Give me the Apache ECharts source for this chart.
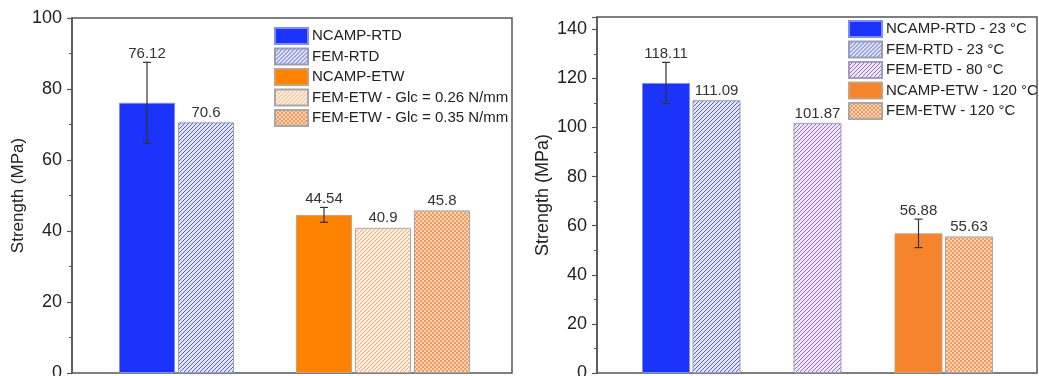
<!DOCTYPE html>
<html>
<head>
<meta charset="utf-8">
<script src="https://cdn.jsdelivr.net/npm/echarts@6/dist/echarts.min.js"></script>
<style>
  html, body { margin: 0; padding: 0; background: #fff; }
  #chart { width: 1039px; height: 376px; }
</style>
</head>
<body>
<div id="chart"></div>
<script>
// left panel: one slot per bar, '' is an empty slot between the groups
const leftSlots = ['NCAMP-RTD', 'FEM-RTD', '', 'NCAMP-ETW', 'FEM-ETW - Glc = 0.26 N/mm', 'FEM-ETW - Glc = 0.35 N/mm']
const leftValues = [76.12, 70.6, null, 44.54, 40.9, 45.8]
const leftErrors = [11.4, null, null, 2.1, null, null]
const leftMax = 100

// right panel
const rightSlots = ['NCAMP-RTD - 23 °C', 'FEM-RTD - 23 °C', '', 'FEM-ETD - 80 °C', '', 'NCAMP-ETW - 120 °C', 'FEM-ETW - 120 °C']
const rightValues = [118.11, 111.09, null, 101.87, null, 56.88, 55.63]
const rightErrors = [8.4, null, null, null, null, 5.8, null]
const rightMax = 145

const tickStep = 20
const FONT = '"Liberation Sans", Arial, sans-serif'

// hatch fills
function stripes(line, bg) {
  const s = 4
  const c = document.createElement('canvas')
  c.width = c.height = s
  const ctx = c.getContext('2d')
  ctx.fillStyle = bg
  ctx.fillRect(0, 0, s, s)
  ctx.strokeStyle = line
  ctx.lineWidth = 1
  ctx.beginPath()
  ctx.moveTo(0, s); ctx.lineTo(s, 0)
  ctx.moveTo(-1, 1); ctx.lineTo(1, -1)
  ctx.moveTo(s - 1, s + 1); ctx.lineTo(s + 1, s - 1)
  ctx.stroke()
  return { image: c, repeat: 'repeat' }
}
function checker(a, b) {
  const c = document.createElement('canvas')
  c.width = c.height = 4
  const ctx = c.getContext('2d')
  ctx.fillStyle = b
  ctx.fillRect(0, 0, 4, 4)
  ctx.fillStyle = a
  ctx.fillRect(0, 0, 2, 2)
  ctx.fillRect(2, 2, 2, 2)
  return { image: c, repeat: 'repeat' }
}

const styles = {
  'NCAMP-RTD': { color: '#1c33fb', borderColor: '#7f8cf0', borderWidth: 1 },
  'FEM-RTD': { color: stripes('#5363e0', '#e2e5fb'), borderColor: '#9a9cb0', borderWidth: 1 },
  'NCAMP-ETW': { color: '#ff8300', borderColor: '#c9a27a', borderWidth: 1 },
  'FEM-ETW - Glc = 0.26 N/mm': { color: stripes('#f4ac76', '#fdeee1'), borderColor: '#a8a8a8', borderWidth: 1 },
  'FEM-ETW - Glc = 0.35 N/mm': { color: checker('#f39a60', '#fbd3b5'), borderColor: '#a8a8a8', borderWidth: 1 },
  'NCAMP-RTD - 23 °C': { color: '#1c33fb', borderColor: '#7f8cf0', borderWidth: 1 },
  'FEM-RTD - 23 °C': { color: stripes('#5363e0', '#e2e5fb'), borderColor: '#9a9cb0', borderWidth: 1 },
  'FEM-ETD - 80 °C': { color: stripes('#966cdc', '#efe7fb'), borderColor: '#a49cb4', borderWidth: 1 },
  'NCAMP-ETW - 120 °C': { color: '#f5842c', borderColor: '#c9a27a', borderWidth: 1 },
  'FEM-ETW - 120 °C': { color: checker('#f39a60', '#fbd3b5'), borderColor: '#a8a8a8', borderWidth: 1 }
}

function barSeries(slots, values, errors, axisIndex) {
  const out = []
  slots.forEach((name, i) => {
    if (!name) return
    out.push({
      type: 'bar',
      name: name,
      xAxisIndex: axisIndex,
      yAxisIndex: axisIndex,
      data: values.map((v, j) => (j === i ? v : null)),
      barWidth: '95%',
      barGap: '-100%',
      itemStyle: styles[name],
      label: {
        show: errors[i] == null,
        position: 'top',
        distance: 2,
        fontSize: 15,
        fontFamily: FONT,
        color: '#333'
      }
    })
  })
  return out
}

function errorSeries(values, errors, axisIndex) {
  const data = []
  errors.forEach((e, i) => {
    if (e != null) data.push([i, values[i], e])
  })
  return {
    type: 'custom',
    xAxisIndex: axisIndex,
    yAxisIndex: axisIndex,
    z: 5,
    data: data,
    renderItem: function (params, api) {
      const i = api.value(0)
      const v = api.value(1)
      const e = api.value(2)
      const top = api.coord([i, v + e])
      const bot = api.coord([i, v - e])
      const cap = 4
      const ls = { stroke: '#333', lineWidth: 1.2 }
      return {
        type: 'group',
        children: [
          { type: 'line', shape: { x1: top[0], y1: top[1], x2: bot[0], y2: bot[1] }, style: ls },
          { type: 'line', shape: { x1: top[0] - cap, y1: top[1], x2: top[0] + cap, y2: top[1] }, style: ls },
          { type: 'line', shape: { x1: bot[0] - cap, y1: bot[1], x2: bot[0] + cap, y2: bot[1] }, style: ls },
          {
            type: 'text',
            x: top[0],
            y: top[1] - 1,
            style: {
              text: String(v),
              align: 'center',
              verticalAlign: 'bottom',
              fontSize: 15,
              fontFamily: FONT,
              fill: '#333'
            }
          }
        ]
      }
    }
  }
}

function frameY(gridIndex, max, nameSize) {
  return {
    gridIndex: gridIndex,
    type: 'value',
    min: 0,
    max: max,
    interval: tickStep,
    name: 'Strength (MPa)',
    nameLocation: 'middle',
    nameGap: 45,
    nameTextStyle: { fontSize: nameSize, color: '#222', fontFamily: FONT },
    axisLine: { show: true, lineStyle: { color: '#555', width: 1.5 } },
    axisTick: { show: true, length: 5, lineStyle: { color: '#555', width: 1.2 } },
    minorTick: { show: true, splitNumber: 2, length: 3, lineStyle: { color: '#555' } },
    axisLabel: { fontSize: 18, color: '#222', fontFamily: FONT, margin: 10, showMaxLabel: max % tickStep === 0 },
    splitLine: { show: false }
  }
}

function legend(slots, left, top) {
  return {
    orient: 'vertical',
    left: left,
    top: top,
    data: slots.filter(s => s),
    itemWidth: 33,
    itemHeight: 16,
    itemGap: 2.5,
    padding: 0,
    icon: 'rect',
    textStyle: { fontSize: 15, color: '#222', fontFamily: FONT, padding: [0, 0, 0, -1] }
  }
}

const chart = echarts.init(document.getElementById('chart'))
chart.setOption({
  animation: false,
  backgroundColor: '#fff',
  grid: [
    { left: 72, top: 18, width: 440, bottom: 3, outerBoundsMode: 'none', show: true, borderColor: '#555', borderWidth: 1.5 },
    { left: 117.5, top: 18, width: 354, bottom: 3, outerBoundsMode: 'none' },
    { left: 597, top: 17, width: 440, bottom: 3, outerBoundsMode: 'none', show: true, borderColor: '#555', borderWidth: 1.5 },
    { left: 640.75, top: 17, width: 353.5, bottom: 3, outerBoundsMode: 'none' }
  ],
  xAxis: [
    { gridIndex: 0, type: 'category', data: [''], show: false },
    { gridIndex: 1, type: 'category', data: leftSlots, show: false },
    { gridIndex: 2, type: 'category', data: [''], show: false },
    { gridIndex: 3, type: 'category', data: rightSlots, show: false }
  ],
  yAxis: [
    frameY(0, leftMax, 17),
    { gridIndex: 1, type: 'value', min: 0, max: leftMax, show: false },
    frameY(2, rightMax, 18),
    { gridIndex: 3, type: 'value', min: 0, max: rightMax, show: false }
  ],
  legend: [
    legend(leftSlots, 274, 27),
    legend(rightSlots, 848, 20)
  ],
  series: [
    ...barSeries(leftSlots, leftValues, leftErrors, 1),
    errorSeries(leftValues, leftErrors, 1),
    ...barSeries(rightSlots, rightValues, rightErrors, 3),
    errorSeries(rightValues, rightErrors, 3)
  ]
})
</script>
</body>
</html>
